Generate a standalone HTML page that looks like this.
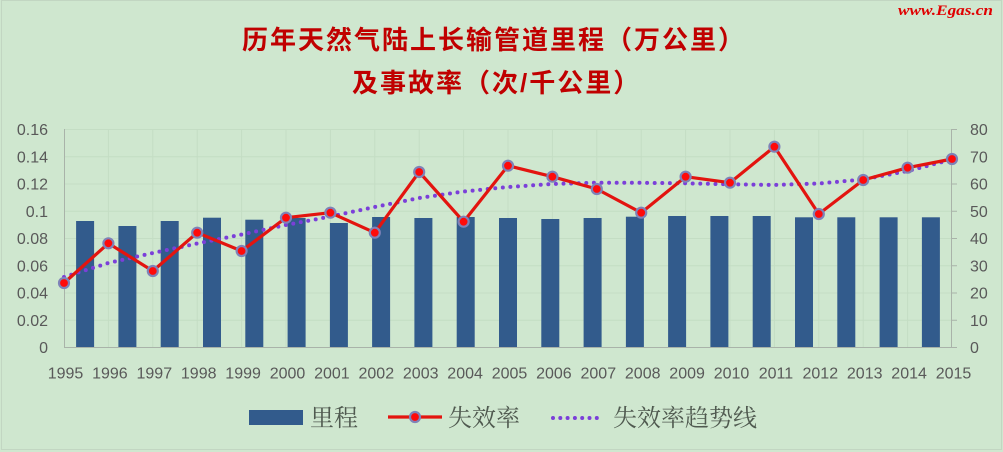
<!DOCTYPE html>
<html>
<head>
<meta charset="utf-8">
<style>
html,body{margin:0;padding:0;background:#cfe7cf;}
svg{display:block;}
</style>
</head>
<body>
<svg width="1003" height="452" viewBox="0 0 1003 452" xmlns="http://www.w3.org/2000/svg">
  <rect x="0" y="0" width="1003" height="452" fill="#cfe7cf"/>
  <rect x="1.5" y="0.5" width="1000" height="449" fill="none" stroke="#c2d6c2" stroke-width="1"/>

  <!-- watermark -->
  <text x="898" y="15" font-family="Liberation Serif, serif" font-style="italic" font-weight="bold" font-size="15" fill="#e00000" textLength="95" lengthAdjust="spacingAndGlyphs">www.Egas.cn</text>

  <!-- title -->
  <g font-family="'Liberation Sans','Noto Sans CJK SC',sans-serif" font-weight="bold" font-size="26" fill="#c00000" letter-spacing="2">
    <text x="242" y="49">历年天然气陆上长输管道里程（万公里）</text>
    <text x="352" y="92">及事故率（次/千公里）</text>
  </g>

  <!-- faint grid -->
  <g stroke="#c4ddc4" stroke-width="1">
    <line x1="64" y1="129.5" x2="952" y2="129.5"/>
    <line x1="64" y1="156.75" x2="952" y2="156.75"/>
    <line x1="64" y1="184" x2="952" y2="184"/>
    <line x1="64" y1="211.25" x2="952" y2="211.25"/>
    <line x1="64" y1="238.5" x2="952" y2="238.5"/>
    <line x1="64" y1="265.75" x2="952" y2="265.75"/>
    <line x1="64" y1="293" x2="952" y2="293"/>
    <line x1="64" y1="320.25" x2="952" y2="320.25"/>
    <line x1="108.4" y1="129" x2="108.4" y2="347"/>
    <line x1="152.8" y1="129" x2="152.8" y2="347"/>
    <line x1="197.2" y1="129" x2="197.2" y2="347"/>
    <line x1="241.6" y1="129" x2="241.6" y2="347"/>
    <line x1="286" y1="129" x2="286" y2="347"/>
    <line x1="330.4" y1="129" x2="330.4" y2="347"/>
    <line x1="374.8" y1="129" x2="374.8" y2="347"/>
    <line x1="419.2" y1="129" x2="419.2" y2="347"/>
    <line x1="463.6" y1="129" x2="463.6" y2="347"/>
    <line x1="508" y1="129" x2="508" y2="347"/>
    <line x1="552.4" y1="129" x2="552.4" y2="347"/>
    <line x1="596.8" y1="129" x2="596.8" y2="347"/>
    <line x1="641.2" y1="129" x2="641.2" y2="347"/>
    <line x1="685.6" y1="129" x2="685.6" y2="347"/>
    <line x1="730" y1="129" x2="730" y2="347"/>
    <line x1="774.4" y1="129" x2="774.4" y2="347"/>
    <line x1="818.8" y1="129" x2="818.8" y2="347"/>
    <line x1="863.2" y1="129" x2="863.2" y2="347"/>
    <line x1="907.6" y1="129" x2="907.6" y2="347"/>
  </g>

  <!-- bars -->
  <g fill="#325b8c">
    <rect x="76.1" y="221" width="18" height="126"/>
    <rect x="118.4" y="226" width="18" height="121"/>
    <rect x="160.7" y="221" width="18" height="126"/>
    <rect x="203.0" y="217.7" width="18" height="129.3"/>
    <rect x="245.3" y="219.7" width="18" height="127.3"/>
    <rect x="287.6" y="218" width="18" height="129"/>
    <rect x="329.9" y="223" width="18" height="124"/>
    <rect x="372.1" y="217" width="18" height="130"/>
    <rect x="414.4" y="218" width="18" height="129"/>
    <rect x="456.7" y="217" width="18" height="130"/>
    <rect x="499.0" y="218" width="18" height="129"/>
    <rect x="541.3" y="219" width="18" height="128"/>
    <rect x="583.6" y="218" width="18" height="129"/>
    <rect x="625.9" y="216.7" width="18" height="130.3"/>
    <rect x="668.1" y="216" width="18" height="131"/>
    <rect x="710.4" y="216" width="18" height="131"/>
    <rect x="752.7" y="216" width="18" height="131"/>
    <rect x="795.0" y="217.3" width="18" height="129.7"/>
    <rect x="837.3" y="217.3" width="18" height="129.7"/>
    <rect x="879.6" y="217.3" width="18" height="129.7"/>
    <rect x="921.9" y="217.3" width="18" height="129.7"/>
  </g>

  <!-- axes -->
  <g stroke="#a9b3a9" stroke-width="1">
    <line x1="64.5" y1="129" x2="64.5" y2="347"/>
    <line x1="951.5" y1="129" x2="951.5" y2="347"/>
    <line x1="64" y1="347.5" x2="952" y2="347.5"/>
    <line x1="951.5" y1="129.5" x2="957" y2="129.5"/>
    <line x1="951.5" y1="156.75" x2="957" y2="156.75"/>
    <line x1="951.5" y1="184" x2="957" y2="184"/>
    <line x1="951.5" y1="211.25" x2="957" y2="211.25"/>
    <line x1="951.5" y1="238.5" x2="957" y2="238.5"/>
    <line x1="951.5" y1="265.75" x2="957" y2="265.75"/>
    <line x1="951.5" y1="293" x2="957" y2="293"/>
    <line x1="951.5" y1="320.25" x2="957" y2="320.25"/>
    <line x1="951.5" y1="347.5" x2="957" y2="347.5"/>
  </g>

  <!-- trend line -->
  <polyline fill="none" stroke="#7b3fd9" stroke-width="4" stroke-linecap="round" stroke-dasharray="0 7.6"
    points="64,277 108.4,263 152.8,253 197.2,243.5 241.6,234.5 286,225 330.4,216.5 374.8,207 419.2,198 463.6,191.5 508,187 552.4,184 596.8,182.7 641.2,182.8 685.6,183.3 730,184.3 774.4,185 818.8,183.5 863.2,179.5 907.6,171 952,159.5"/>

  <!-- failure rate line -->
  <polyline fill="none" stroke="#e3140f" stroke-width="3.2" stroke-linejoin="round"
    points="64,283 108.4,243.3 152.8,271 197.2,232.7 241.6,251 286,217.7 330.4,212.7 374.8,232.7 419.2,172 463.6,221.7 508,165.7 552.4,176.7 596.8,189 641.2,212.7 685.6,176.7 730,182.7 774.4,146.7 818.8,214 863.2,180 907.6,167.7 952,159"/>
  <g fill="#ff0a0a" stroke="#7f82b8" stroke-width="2.2">
    <circle cx="64" cy="283" r="5"/>
    <circle cx="108.4" cy="243.3" r="5"/>
    <circle cx="152.8" cy="271" r="5"/>
    <circle cx="197.2" cy="232.7" r="5"/>
    <circle cx="241.6" cy="251" r="5"/>
    <circle cx="286" cy="217.7" r="5"/>
    <circle cx="330.4" cy="212.7" r="5"/>
    <circle cx="374.8" cy="232.7" r="5"/>
    <circle cx="419.2" cy="172" r="5"/>
    <circle cx="463.6" cy="221.7" r="5"/>
    <circle cx="508" cy="165.7" r="5"/>
    <circle cx="552.4" cy="176.7" r="5"/>
    <circle cx="596.8" cy="189" r="5"/>
    <circle cx="641.2" cy="212.7" r="5"/>
    <circle cx="685.6" cy="176.7" r="5"/>
    <circle cx="730" cy="182.7" r="5"/>
    <circle cx="774.4" cy="146.7" r="5"/>
    <circle cx="818.8" cy="214" r="5"/>
    <circle cx="863.2" cy="180" r="5"/>
    <circle cx="907.6" cy="167.7" r="5"/>
    <circle cx="952" cy="159" r="5"/>
  </g>

  <!-- left axis labels -->
  <g font-family="'Liberation Sans',sans-serif" font-size="16" fill="#595959" text-anchor="end">
    <text x="48" y="135">0.16</text>
    <text x="48" y="162.5">0.14</text>
    <text x="48" y="189.7">0.12</text>
    <text x="48" y="217">0.1</text>
    <text x="48" y="244.2">0.08</text>
    <text x="48" y="271.5">0.06</text>
    <text x="48" y="298.7">0.04</text>
    <text x="48" y="326">0.02</text>
    <text x="48" y="353">0</text>
  </g>
  <!-- right axis labels -->
  <g font-family="'Liberation Sans',sans-serif" font-size="16" fill="#595959">
    <text x="970" y="135">80</text>
    <text x="970" y="162.5">70</text>
    <text x="970" y="189.7">60</text>
    <text x="970" y="217">50</text>
    <text x="970" y="244.2">40</text>
    <text x="970" y="271.5">30</text>
    <text x="970" y="298.7">20</text>
    <text x="970" y="326">10</text>
    <text x="970" y="353">0</text>
  </g>
  <!-- x labels -->
  <g font-family="'Liberation Sans',sans-serif" font-size="16" fill="#595959" text-anchor="middle">
    <text x="65.5" y="378.7">1995</text>
    <text x="109.9" y="378.7">1996</text>
    <text x="154.3" y="378.7">1997</text>
    <text x="198.7" y="378.7">1998</text>
    <text x="243.1" y="378.7">1999</text>
    <text x="287.5" y="378.7">2000</text>
    <text x="331.9" y="378.7">2001</text>
    <text x="376.3" y="378.7">2002</text>
    <text x="420.7" y="378.7">2003</text>
    <text x="465.1" y="378.7">2004</text>
    <text x="509.5" y="378.7">2005</text>
    <text x="553.9" y="378.7">2006</text>
    <text x="598.3" y="378.7">2007</text>
    <text x="642.7" y="378.7">2008</text>
    <text x="687.1" y="378.7">2009</text>
    <text x="731.5" y="378.7">2010</text>
    <text x="775.9" y="378.7">2011</text>
    <text x="820.3" y="378.7">2012</text>
    <text x="864.7" y="378.7">2013</text>
    <text x="909.1" y="378.7">2014</text>
    <text x="953.5" y="378.7">2015</text>
  </g>

  <!-- legend -->
  <rect x="249" y="410" width="54" height="15" fill="#325b8c"/>
  <line x1="388" y1="417" x2="442" y2="417" stroke="#e3140f" stroke-width="3.2"/>
  <circle cx="415" cy="417" r="5" fill="#ff0a0a" stroke="#7f82b8" stroke-width="2.2"/>
  <line x1="553" y1="418" x2="597" y2="418" stroke="#7b3fd9" stroke-width="4" stroke-linecap="round" stroke-dasharray="0 7.3"/>
  <g font-family="'Liberation Serif','Noto Serif CJK SC',serif" font-size="24" fill="#505a50">
    <text x="310" y="426">里程</text>
    <text x="448" y="426">失效率</text>
    <text x="613" y="426">失效率趋势线</text>
  </g>
</svg>
</body>
</html>
